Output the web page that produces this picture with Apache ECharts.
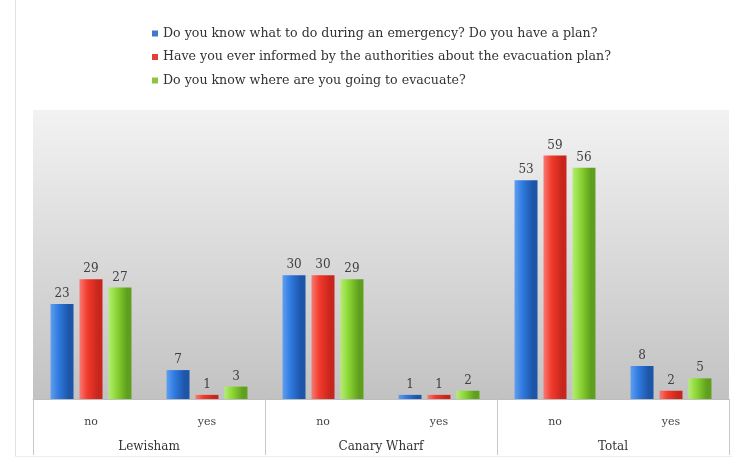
<!DOCTYPE html>
<html>
<head>
<meta charset="utf-8">
<script src="https://cdn.jsdelivr.net/npm/echarts@6/dist/echarts.min.js"></script>
<style>
  html, body { margin: 0; padding: 0; background: #ffffff; }
  #chart { width: 732px; height: 459px; }
</style>
</head>
<body>
<div id="chart"></div>
<script>
// Survey answers by area: inner axis = answer, outer axis = area
const categories = ['no', 'yes', 'no', 'yes', 'no', 'yes'];
const groups = ['Lewisham', 'Canary Wharf', 'Total'];
const seriesNames = [
  'Do you know what to do during an emergency? Do you have a plan?',
  'Have you ever informed by the authorities about the evacuation plan?',
  'Do you know where are you going to evacuate?'
];
const knowWhatToDo = [23, 7, 30, 1, 53, 8];
const informedByAuthorities = [29, 1, 30, 1, 59, 2];
const knowWhereToGo = [27, 3, 29, 2, 56, 5];

const FONT = 'DejaVu Serif';

function barFill(dark, mid, light) {
  return new echarts.graphic.LinearGradient(0, 0, 1, 0, [
    { offset: 0, color: light },
    { offset: 0.35, color: mid },
    { offset: 0.8, color: dark },
    { offset: 1, color: dark }
  ]);
}

const palette = [
  { legend: '#3f78cc', fill: barFill('#1d55a8', '#2f7ae0', '#5e9ff0') },
  { legend: '#e0413a', fill: barFill('#c8261c', '#f23a2c', '#f77a70') },
  { legend: '#8cc63e', fill: barFill('#5f9f1e', '#8bd634', '#b4ee72') }
];

const values = [knowWhatToDo, informedByAuthorities, knowWhereToGo];

const chart = echarts.init(document.getElementById('chart'), null, { renderer: 'canvas' });

chart.setOption({
  animation: false,
  textStyle: { fontFamily: FONT },
  legend: {
    orient: 'vertical',
    left: 147,
    top: 22,
    itemGap: 10.5,
    itemWidth: 6,
    itemHeight: 6,
    icon: 'rect',
    textStyle: { fontFamily: FONT, fontSize: 12.6, color: '#333333' },
    data: seriesNames.map((n, i) => ({ name: n, itemStyle: { color: palette[i].legend } }))
  },
  grid: {
    left: 33,
    right: 3,
    top: 110,
    bottom: 60,
    show: true,
    borderWidth: 0,
    backgroundColor: new echarts.graphic.LinearGradient(0, 0, 0, 1, [
      { offset: 0, color: '#f2f2f2' },
      { offset: 1, color: '#c2c2c2' }
    ])
  },
  xAxis: [
    {
      type: 'category',
      data: categories,
      position: 'bottom',
      axisLine: { show: true, lineStyle: { color: '#bdbdbd', width: 1 } },
      axisTick: { show: false },
      axisLabel: { fontFamily: FONT, fontSize: 11, color: '#444444', margin: 18 }
    },
    {
      type: 'category',
      data: groups,
      position: 'bottom',
      axisLine: { show: false },
      axisTick: { show: true, length: 56, lineStyle: { color: '#c8c8c8' } },
      axisLabel: { fontFamily: FONT, fontSize: 12, color: '#333333', margin: 42 }
    }
  ],
  yAxis: {
    type: 'value',
    min: 0,
    max: 70,
    show: false,
    splitLine: { show: false }
  },
  series: seriesNames.map((name, i) => ({
    name: name,
    type: 'bar',
    xAxisIndex: 0,
    data: values[i],
    barWidth: 23,
    barGap: '26%',
    itemStyle: { color: palette[i].fill },
    label: {
      show: true,
      position: 'top',
      distance: 4,
      fontFamily: FONT,
      fontSize: 12,
      color: '#404040'
    }
  })),
  graphic: [
    {
      type: 'line',
      shape: { x1: 15.5, y1: 0, x2: 15.5, y2: 456 },
      style: { stroke: '#e2e2e2', lineWidth: 1 },
      silent: true
    },
    {
      type: 'line',
      shape: { x1: 15, y1: 456.5, x2: 732, y2: 456.5 },
      style: { stroke: '#eeeeee', lineWidth: 1 },
      silent: true
    }
  ]
});
</script>
</body>
</html>
